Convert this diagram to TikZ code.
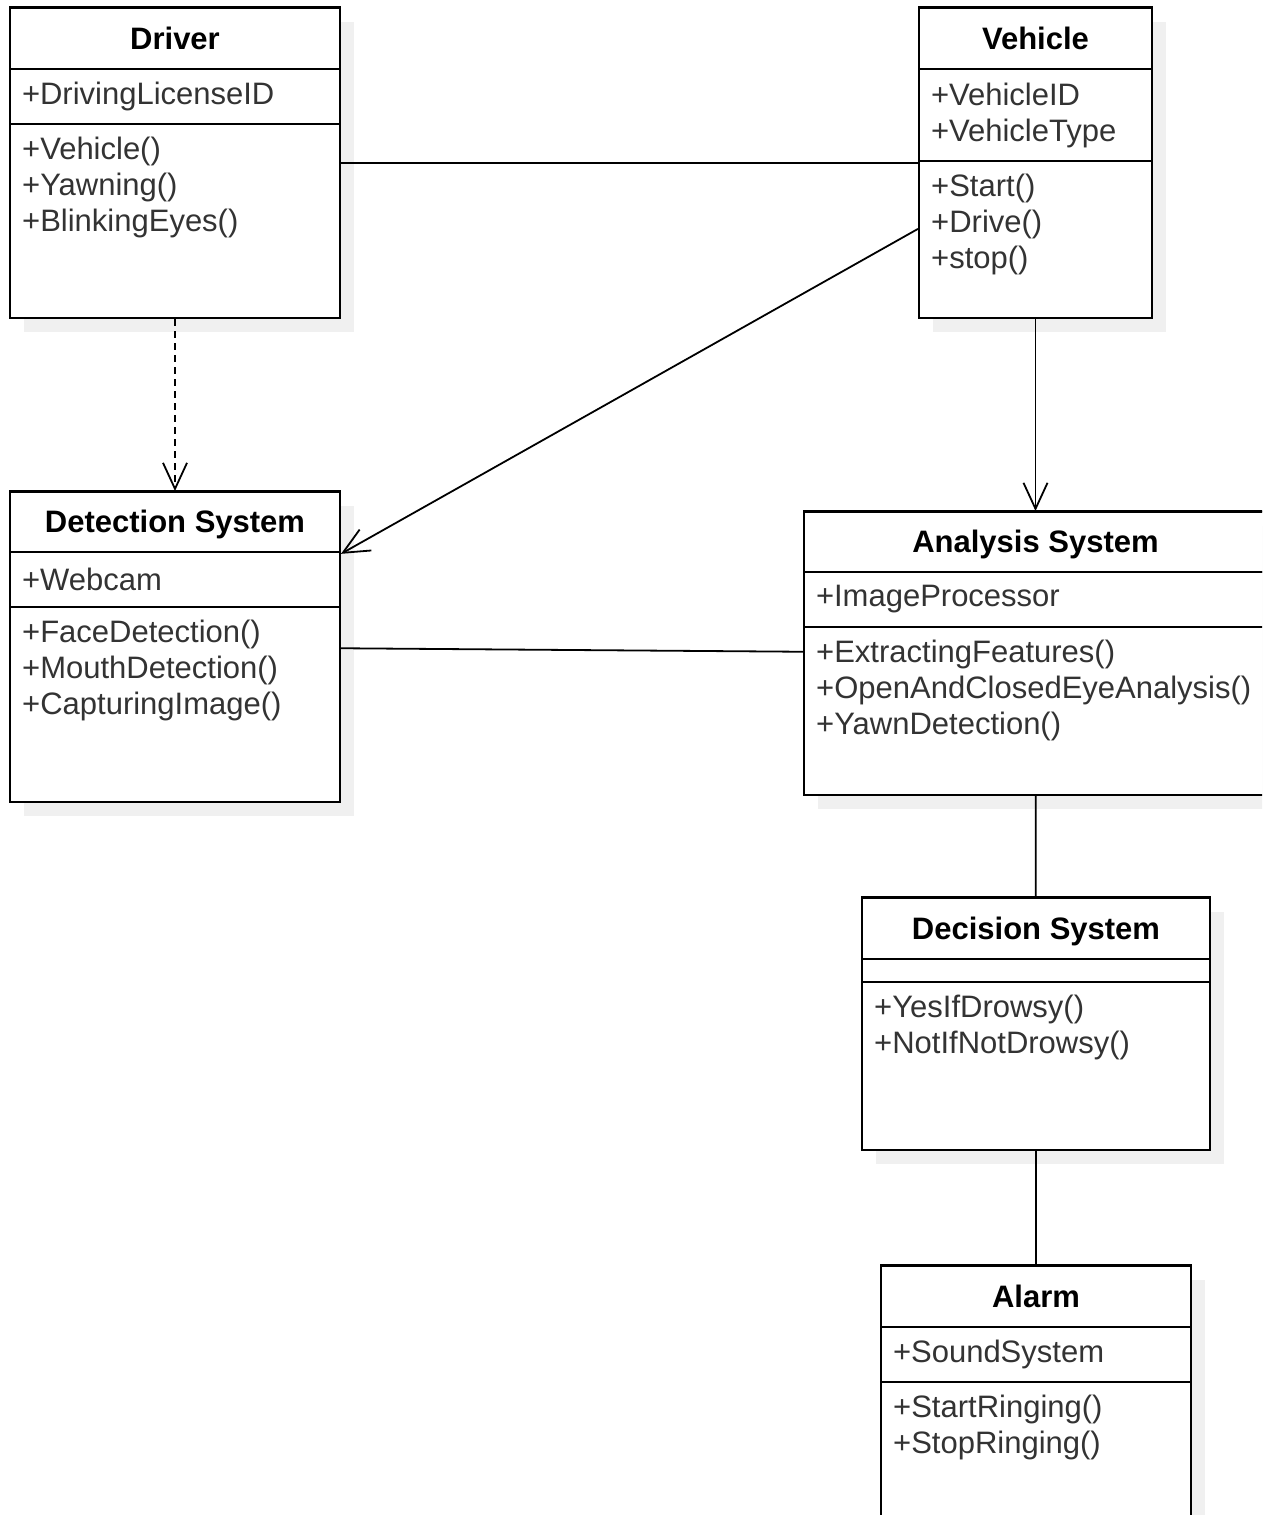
\documentclass[tikz,border=0pt]{standalone}
\usepackage{fontspec}
\setmainfont{Liberation Sans}
\usetikzlibrary{positioning,arrows.meta,shadows}

\begin{document}
\begin{tikzpicture}[x=1pt, y=-1pt]
    \useasboundingbox (0,0) rectangle (1262,1515);
    \fill[white] (0,0) rectangle (1262,1515);
    \clip (0,0) rectangle (1262,1515);
    \begin{scope}[>={Straight Barb[length=26pt,width=24pt]},
    		frame/.style={rectangle,draw,line width=2pt,fill=white,
    			drop shadow={shadow xshift=14pt,shadow yshift=-14pt,fill=black!6,opacity=1}},
    		head/.style={rectangle,draw,line width=2pt,minimum height=62pt,inner sep=0pt,outer sep=0pt,
    			text height=22pt,text depth=0pt,font=\fontsize{31}{36}\selectfont\bfseries},
    		attr/.style={rectangle,draw,line width=2pt,inner xsep=12pt,inner ysep=0pt,outer sep=0pt,
    			align=left,text=black!80,font=\fontsize{31}{36}\selectfont},
    		oper/.style={rectangle,inner xsep=12pt,inner ysep=11pt,text height=24pt,
    			align=left,text=black!80,font=\fontsize{31}{36}\selectfont,anchor=north west},
    		link/.style={black,line width=1.8pt},
    		arrow/.style={black,line width=1.8pt,->}]

    % Driver
    \node[frame, minimum width=330pt, minimum height=310pt] (driver) at (175,163) {};
    \node[head, minimum width=330pt, below=0pt of driver.north] (driverH) {Driver};
    \node[attr, text width=306pt, minimum height=55pt, below=0pt of driverH] (driverA) {+DrivingLicenseID};
    \node[oper, text width=306pt] (driverO) at (driverA.south west) {+Vehicle()\\+Yawning()\\+BlinkingEyes()};

    % Vehicle
    \node[frame, minimum width=233pt, minimum height=310pt] (vehicle) at (1035.5,163) {};
    \node[head, minimum width=233pt, below=0pt of vehicle.north] (vehicleH) {Vehicle};
    \node[attr, text width=209pt, minimum height=92pt, below=0pt of vehicleH] (vehicleA) {+VehicleID\\+VehicleType};
    \node[oper, text width=209pt] (vehicleO) at (vehicleA.south west) {+Start()\\+Drive()\\+stop()};

    % Detection System
    \node[frame, minimum width=330pt, minimum height=310pt] (detection) at (175,647) {};
    \node[head, minimum width=330pt, minimum height=61pt, below=0pt of detection.north] (detectionH) {Detection System};
    \node[attr, text width=306pt, minimum height=55pt, below=0pt of detectionH] (detectionA) {+Webcam};
    \node[oper, text width=306pt] (detectionO) at (detectionA.south west) {+FaceDetection()\\+MouthDetection()\\+CapturingImage()};

    % Analysis System
    \node[frame, minimum width=463pt, minimum height=283pt] (analysis) at (1035.5,653.5) {};
    \node[head, minimum width=463pt, minimum height=61pt, below=0pt of analysis.north] (analysisH) {Analysis System};
    \node[attr, text width=439pt, minimum height=55pt, below=0pt of analysisH] (analysisA) {+ImageProcessor};
    \node[oper, text width=439pt] (analysisO) at (analysisA.south west) {+ExtractingFeatures()\\+OpenAndClosedEyeAnalysis()\\+YawnDetection()};

    % Decision System
    \node[frame, minimum width=348pt, minimum height=252pt] (decision) at (1036,1024) {};
    \node[head, minimum width=348pt, below=0pt of decision.north] (decisionH) {Decision System};
    \node[attr, text width=324pt, minimum height=23pt, below=0pt of decisionH] (decisionA) {};
    \node[oper, text width=324pt] (decisionO) at (decisionA.south west) {+YesIfDrowsy()\\+NotIfNotDrowsy()};

    % Alarm
    \node[frame, minimum width=310pt, minimum height=300pt] (alarm) at (1036,1416) {};
    \node[head, minimum width=310pt, below=0pt of alarm.north] (alarmH) {Alarm};
    \node[attr, text width=286pt, minimum height=55pt, below=0pt of alarmH] (alarmA) {+SoundSystem};
    \node[oper, text width=286pt] (alarmO) at (alarmA.south west) {+StartRinging()\\+StopRinging()};

    \draw[link] (driver) -- (vehicle);
    \draw[arrow, dash pattern=on 7pt off 5pt] (driver) -- (detection);
    \draw[arrow] (vehicle) -- (detection);
    \draw[arrow] (vehicle) -- (analysis);
    \draw[link] (detection) -- (analysis);
    \draw[link] (analysis) -- (decision);
    \draw[link] (decision) -- (alarm);

    \end{scope}
\end{tikzpicture}
\end{document}
